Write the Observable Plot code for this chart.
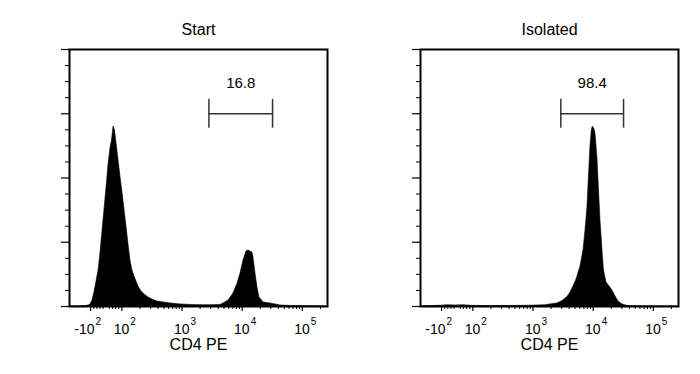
<!DOCTYPE html>
<html>
<head>
<meta charset="utf-8">
<script src="https://cdn.jsdelivr.net/npm/d3@7"></script>
<script src="https://cdn.jsdelivr.net/npm/@observablehq/plot@0.6"></script>
<style>
  html, body { margin: 0; padding: 0; background: #fff; }
  #wrap { display: flex; width: 700px; height: 374px; }
</style>
</head>
<body>
<div id="wrap"></div>
<script>
// ---- Data (fluorescence intensity bin centers, % of max count) ----
const panelTitles = ["Start", "Isolated"];
const axisLabel = "CD4 PE";

const startX = [-216, -147, -117, -108, -100, -88, -75, -62, -49, -37, -24, -11, 2, 15, 27, 37, 47, 56, 66, 79, 91,
  103, 111, 120, 129, 139, 150, 162, 175, 189, 212, 238, 277, 323, 391, 492, 644, 944, 1384, 2029, 2976,
  4364, 4893, 5927, 7176, 8362, 9380, 10522, 11803, 12744, 13753, 14849, 15428, 16657, 17981, 19410,
  22620, 29575, 43360, 63580, 93240, 252100];
const startY = [0, 0, 0.2, 0.4, 0.8, 2.3, 5.5, 9.7, 14.0, 20.6, 29.2, 37.7, 46.3, 55.3, 61.5, 64.6, 70.0, 68.5, 63.4, 56.8, 50.6,
  44.0, 37.4, 30.7, 24.1, 17.9, 14.0, 11.7, 9.7, 7.8, 5.8, 4.7, 3.5, 2.7, 1.9, 1.6, 1.2, 0.8, 0.6, 0.5, 0.5,
  0.6, 1.2, 2.3, 5.1, 8.9, 12.8, 17.9, 21.4, 21.8, 21.4, 21.0, 19.1, 12.8, 7.4, 3.5,
  1.6, 1.2, 0.4, 0.2, 0.1, 0];

const isoX = [-216, -104, -60, -11, 40, 85, 197, 423, 908, 1613, 1953, 2554, 3092, 3744, 4201, 4710, 5284, 6157,
  6905, 7455, 8050, 8524, 9029, 9489, 9858, 10522, 10932, 11803, 12502, 13238, 14290, 15136, 16657,
  18680, 20956, 23500, 26363, 30730, 37200, 61200, 252100];
const isoY = [0, 0.3, 0.5, 0.4, 0.5, 0.3, 0.1, 0.2, 0.3, 0.5, 0.8, 1.2, 2.1, 3.7, 5.4, 7.8, 10.5, 15.6,
  21.8, 29.6, 38.9, 51.0, 62.6, 68.5, 70.0, 68.9, 67.3, 57.6, 45.1, 33.5, 21.8, 14.0, 9.3,
  7.8, 6.2, 3.9, 1.9, 0.8, 0.2, 0, 0];

const gates = [[2800, 32000], [2900, 32000]];
const gateValues = ["16.8", "98.4"];

const xDomainRaw = [-224, 262144];
const majorTicks = [-100, 100, 1000, 10000, 100000];
const majorBase = ["-10", "10", "10", "10", "10"];
const majorExp = ["2", "2", "3", "4", "5"];
const minorTicks = [-80, -60, -40, -20, 20, 40, 60, 80,
  200, 300, 400, 500, 600, 700, 800, 900,
  2000, 3000, 4000, 5000, 6000, 7000, 8000, 9000,
  20000, 30000, 40000, 50000, 60000, 70000, 80000, 90000, 200000];
const yMajor = [0, 25, 50, 75, 100];
const yMinor = d3.range(0, 100.01, 6.25).filter(v => v % 25 !== 0);

// ---- biexponential-like display transform ----
const K = 0.26;
const T = v => Math.abs(v) <= 100 ? K * v / 100 : Math.sign(v) * (K + Math.log10(Math.abs(v) / 100));

const font = "'Liberation Sans', Arial, Helvetica, sans-serif";

function panel(i, xs, ys, mL, mR) {
  const data = xs.map((x, j) => ({x: T(x), y: ys[j]}));
  const labels = majorTicks.map((t, j) => ({x: T(t), base: majorBase[j], exp: majorExp[j], neg: t < 0}));
  const g = gates[i];
  return Plot.plot({
    width: 350, height: 374,
    marginLeft: mL, marginRight: mR, marginTop: 49, marginBottom: 68,
    style: {fontFamily: font, background: "white", color: "black"},
    x: {domain: xDomainRaw.map(T), label: null},
    y: {domain: [0, 100], label: null},
    marks: [
      Plot.areaY(data, {x: "x", y: "y", fill: "black", stroke: "black", strokeWidth: 0.6}),
      Plot.frame({stroke: "black", strokeWidth: 2}),
      Plot.axisX({ticks: majorTicks.map(T), tickSize: 5, tickFormat: () => "", label: null, strokeWidth: 1.2}),
      Plot.axisX({ticks: minorTicks.map(T), tickSize: 3, tickFormat: () => "", label: null, strokeWidth: 1}),
      Plot.axisY({ticks: yMajor, tickSize: 8, tickFormat: () => "", label: null, strokeWidth: 1.2}),
      Plot.axisY({ticks: yMinor, tickSize: 4, tickFormat: () => "", label: null, strokeWidth: 1}),
      Plot.text(labels, {filter: d => !d.neg, x: "x", text: "base", frameAnchor: "bottom", textAnchor: "end",
        lineAnchor: "top", dx: 7.5, dy: 17.5, fontSize: 14, fill: "black"}),
      Plot.text(labels, {filter: d => !d.neg, x: "x", text: "exp", frameAnchor: "bottom", textAnchor: "start",
        lineAnchor: "top", dx: 8.5, dy: 11.5, fontSize: 10, fill: "black"}),
      Plot.text(labels, {filter: d => d.neg, x: "x", text: "base", frameAnchor: "bottom", textAnchor: "end",
        lineAnchor: "top", dx: 4, dy: 17.5, fontSize: 14, fill: "black"}),
      Plot.text(labels, {filter: d => d.neg, x: "x", text: "exp", frameAnchor: "bottom", textAnchor: "start",
        lineAnchor: "top", dx: 5, dy: 11.5, fontSize: 10, fill: "black"}),
      Plot.ruleY([75], {x1: T(g[0]), x2: T(g[1]), stroke: "#333", strokeWidth: 1.5}),
      Plot.ruleX(g.map(T), {y1: 69.4, y2: 80.6, stroke: "#333", strokeWidth: 1.5}),
      Plot.text([gateValues[i]], {x: T(Math.sqrt(g[0] * g[1])), y: 87, text: d => d, fontSize: 15, fill: "black"}),
      Plot.text([panelTitles[i]], {frameAnchor: "top", lineAnchor: "middle", dy: -20, text: d => d, fontSize: 16, fill: "black"}),
      Plot.text([axisLabel], {frameAnchor: "bottom", lineAnchor: "middle", dy: 38, text: d => d, fontSize: 16, fill: "black"})
    ]
  });
}

const wrap = document.getElementById("wrap");
wrap.appendChild(panel(0, startX, startY, 69, 23));
wrap.appendChild(panel(1, isoX, isoY, 70, 22));
</script>
</body>
</html>
